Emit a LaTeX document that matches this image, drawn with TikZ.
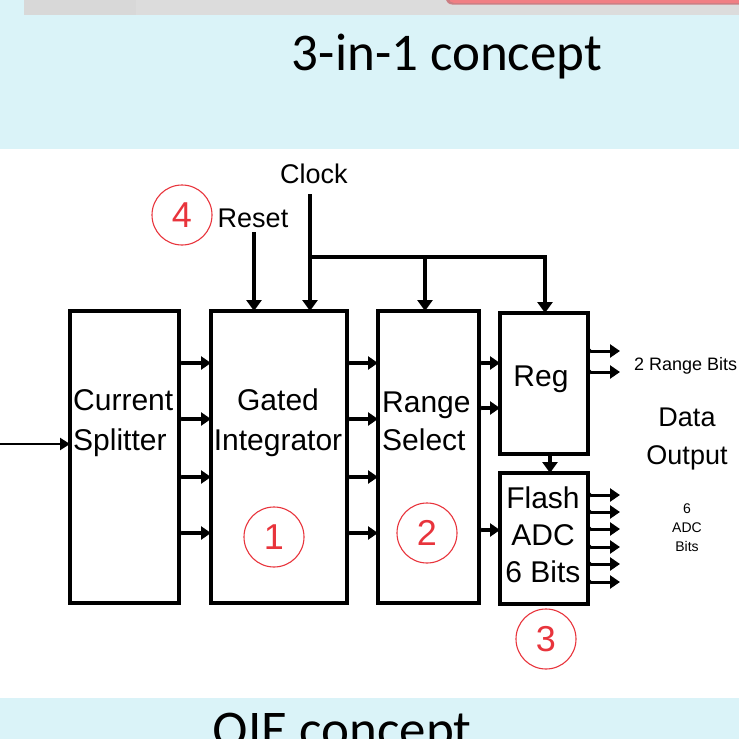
\documentclass[tikz,border=0pt]{standalone}
\usepackage{fontspec}
\setmainfont{Liberation Sans}
\newfontfamily\titlefont{Carlito}
\usetikzlibrary{arrows.meta,calc}
\definecolor{skyband}{HTML}{DAF3F8}
\definecolor{barg}{HTML}{DCDCDC}
\definecolor{barg2}{HTML}{D8D8D8}
\definecolor{pinkbar}{HTML}{F07F84}
\definecolor{pinkedge}{HTML}{C04048}
\definecolor{markred}{HTML}{E8343C}
\tikzset{
  blockbox/.style={draw=black,line width=4pt,rectangle,inner sep=0pt,outer sep=0pt},
  lbl/.style={inner sep=0pt,font=\fontsize{30}{40}\selectfont},
  conn/.style={line width=3.3pt,{Circle[length=4pt]}-{Triangle[length=10pt,width=13pt]}},
  inarrow/.style={line width=2.3pt,-{Triangle[length=10pt,width=12pt]}},
  bus/.style={line width=3.5pt},
  busarrow/.style={line width=3.5pt,-{Triangle[length=11pt,width=15pt]}},
  redmark/.style={circle,draw=markred,line width=1.1pt,minimum size=60pt,inner sep=0pt,
    text=markred,font=\fontsize{36}{36}\selectfont},
}
\begin{document}
\begin{tikzpicture}[x=1pt,y=-1pt]
\useasboundingbox (0,0) rectangle (739,739);
% backgrounds
\fill[skyband] (0,0) rectangle (739,148.6);
\fill[barg] (24,0) rectangle (739,15);
\fill[barg2] (24,0) rectangle (136,15);
\fill[pinkedge!60!barg,rounded corners=6pt] (446,-6) rectangle (745,4.5);
\fill[pinkbar,rounded corners=5pt] (449,-6) rectangle (745,3);
\fill[skyband] (0,698) rectangle (739,739);
% titles
\node[anchor=base,inner sep=0pt,font=\titlefont\fontsize{53}{53}\selectfont] (t1) at (447,70) {3-in-1 concept};
\node[anchor=base,inner sep=0pt,font=\titlefont\fontsize{53}{53}\selectfont] (t2) at (342,747) {QIE concept};

% blocks
\node[blockbox,minimum width=109pt,minimum height=292pt] (split) at (124.5,457) {};
\node[blockbox,minimum width=136pt,minimum height=292pt] (integ) at (279,457) {};
\node[blockbox,minimum width=101pt,minimum height=292pt] (range) at (428.5,457) {};
\node[blockbox,minimum width=88pt,minimum height=141pt] (reg) at (544,383.5) {};
\node[blockbox,minimum width=88pt,minimum height=131pt] (flash) at (544,538.5) {};

% block labels
\node[lbl,anchor=west,align=left] (splitT) at (73,423) {Current\\Splitter};
\node[lbl,align=center] (integT) at (278,423) {Gated\\Integrator};
\node[lbl,anchor=west,align=left,font=\fontsize{30}{38}\selectfont] (rangeT) at (382,421) {Range\\Select};
\node[lbl] (regT) at (541,379) {Reg};
\node[lbl,align=center,font=\fontsize{30}{37}\selectfont] (flashT) at (543,535) {Flash\\ADC\\6 Bits};

% side labels
\node[inner sep=0pt,anchor=west,font=\fontsize{18}{18}\selectfont] (rbits) at (634,366) {2 Range Bits};
\node[inner sep=0pt,align=center,font=\fontsize{27}{38}\selectfont] (dout) at (687,439) {Data\\Output};
\node[inner sep=0pt,align=center,font=\fontsize{14}{19}\selectfont] (abits) at (687,528) {6\\ADC\\Bits};
\node[inner sep=0pt,font=\fontsize{27}{27}\selectfont] (clock) at (314,174) {Clock};
\node[inner sep=0pt,font=\fontsize{27}{27}\selectfont] (reset) at (253,218) {Reset};

% red markers
\node[redmark] (m4) at (182,215) {4};
\node[redmark] (m1) at (274,537) {1};
\node[redmark] (m2) at (427,533) {2};
\node[redmark] (m3) at (546,639) {3};

% helper coordinates
\coordinate (y1) at (0,363);
\coordinate (y2) at (0,419);
\coordinate (y3) at (0,477);
\coordinate (y4) at (0,533);
\coordinate (ry2) at (0,408);
\coordinate (ry3) at (0,530);
\coordinate (inp) at (0,444);
\coordinate (cj) at (310,257);
\coordinate (cr) at (425,257);
\coordinate (ce) at (545,257);
\coordinate (rst) at (254,232);
\coordinate (ctop) at (310,194);
\coordinate (rf) at (550,0);

% input
\draw[inarrow] (inp) -- (split.west |- inp);
% splitter -> integrator, integrator -> range
\foreach \c in {y1,y2,y3,y4}{
  \draw[conn] (split.east |- \c) -- (integ.west |- \c);
  \draw[conn] (integ.east |- \c) -- (range.west |- \c);
}
% range -> reg, range -> flash
\draw[conn] (range.east |- y1) -- (reg.west |- y1);
\draw[conn] (range.east |- ry2) -- (reg.west |- ry2);
\draw[conn] (range.east |- ry3) -- (flash.west |- ry3);
% reg -> flash
\draw[busarrow,shorten <=-1pt] (reg.south -| rf) -- (flash.north -| rf);
% outputs
\foreach \yy [count=\i] in {351,372}{
  \coordinate (ro\i) at (620,\yy);
  \draw[conn,line width=3pt] (reg.east |- ro\i) -- (ro\i);
}
\foreach \yy [count=\i] in {495,512,529,547,564,582}{
  \coordinate (fo\i) at (620,\yy);
  \draw[conn,line width=3pt] (flash.east |- fo\i) -- (fo\i);
}
% clock tree
\draw[busarrow] (ctop) -- (integ.north -| ctop);
\draw[bus] (cj) -- (ce);
\draw[busarrow] (cr) -- (range.north -| cr);
\draw[busarrow,shorten <=-1.75pt] (ce) -- (reg.north -| ce);
% reset
\draw[busarrow] (rst) -- (integ.north -| rst);
\end{tikzpicture}
\end{document}
